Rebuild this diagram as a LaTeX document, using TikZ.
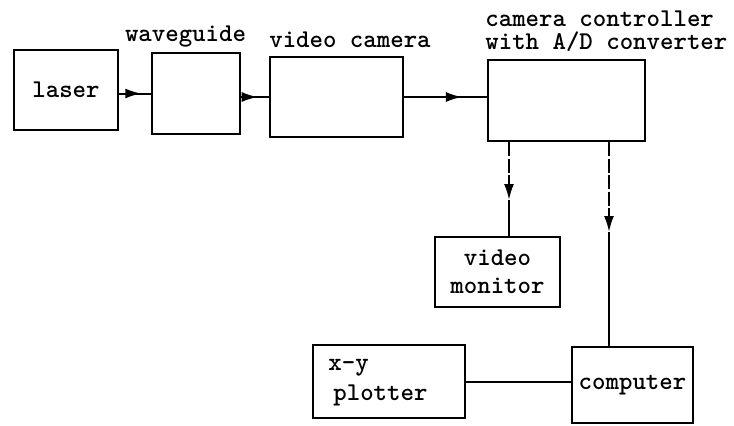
\documentclass[tikz,border=0pt]{standalone}
\usepackage{fontspec}
\usetikzlibrary{arrows.meta, positioning, decorations.markings}

\tikzset{
  unit/.style={draw, line width=1.3pt, inner sep=0pt, align=center,
    font=\ttfamily\bfseries\fontsize{12.8}{14}\selectfont},
  tag/.style={inner sep=0pt, align=left, font=\ttfamily\bfseries\fontsize{12.8}{11.5}\selectfont},
  wire/.style={line width=1pt},
  midarrow/.style={wire, postaction={decorate},
    decoration={markings, mark=at position #1 with {\arrow{Latex[length=8pt,width=5pt]}}}},
  broken/.style={wire, dash pattern=on 7pt off 1.2pt}
}

\begin{document}
\begin{tikzpicture}[x=0.5pt, y=-0.5pt]
  \useasboundingbox (0,0) rectangle (734,425);

  % Top row
  \node[unit, minimum width=52pt, minimum height=40pt] (laser) at (66,90) {laser};
  \node[unit, minimum width=44pt, minimum height=40.5pt] (wg) at (196,93.5) {};
  \node[tag] (wgtag) at (185.5,37) {waveguide};
  \node[unit, minimum width=66.5pt, minimum height=40pt] (cam) at (336.5,97) {};
  \node[tag] (camtag) at (350,40) {video camera};
  \node[unit, minimum width=78.5pt, minimum height=40.5pt] (ctrl) at (566.5,100.5) {};
  \node[tag, anchor=west] (ctrltag) at (485,31.5) {camera controller\\with A/D converter};

  % Lower boxes
  \node[unit, minimum width=62.5pt, minimum height=35pt] (mon) at (497.5,272) {video\\monitor};
  \node[unit, minimum width=76pt, minimum height=36.5pt] (plot) at (389,381.5) {};
  \node[tag, anchor=west, font=\ttfamily\bfseries\fontsize{12.8}{15}\selectfont] (plottag) at (328,383) {x-y\\\hspace*{2.5pt}plotter};
  \node[unit, minimum width=60.5pt, minimum height=38pt] (comp) at (632.5,385) {computer};

  % Connections
  \draw[midarrow=0.7] (laser.east |- wg) -- (wg.west);
  \draw[midarrow=0.6] (wg.east |- cam) -- (cam.west);
  \draw[midarrow=0.7] (cam.east) -- (ctrl.west |- cam.east);

  \coordinate (montip) at (509,200);
  \draw[broken, -{Latex[length=8pt,width=5pt]}] (ctrl.south -| montip) -- (montip);
  \draw[wire] (montip) -- (mon.north -| montip);

  \coordinate (comptip) at (609,232);
  \draw[broken, -{Latex[length=8pt,width=5pt]}] (ctrl.south -| comptip) -- (comptip);
  \draw[wire] (comptip) -- (comp.north -| comptip);

  \draw[wire] (plot.east) -- (comp.west |- plot.east);
\end{tikzpicture}
\end{document}
